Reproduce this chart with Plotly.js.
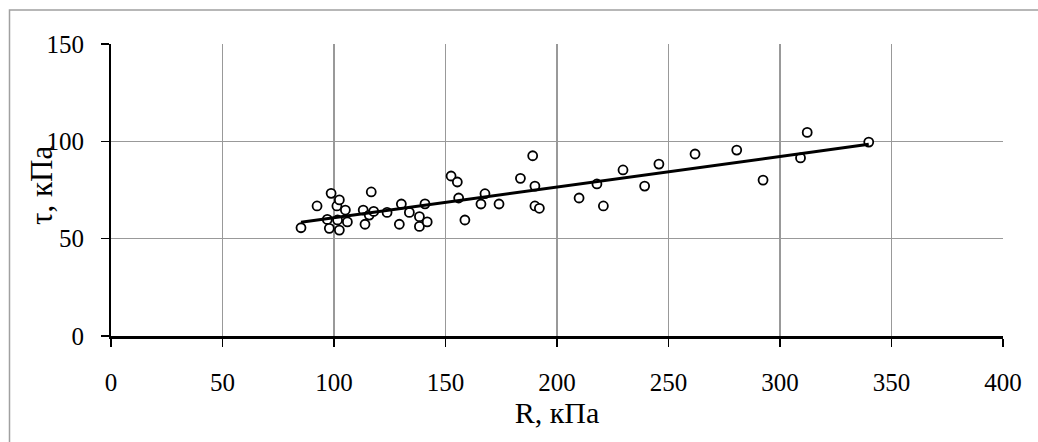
<!DOCTYPE html>
<html>
<head>
<meta charset="utf-8">
<script src="https://cdn.plot.ly/plotly-3.0.1.min.js"></script>
<style>
html,body{margin:0;padding:0;background:#fff;}
#chart{width:1038px;height:442px;}
</style>
</head>
<body>
<div id="chart"></div>
<script>
// Data
const R_kPa = [85.2, 92.4, 97.0, 98.7, 97.9, 101.3, 102.4, 101.6, 102.4, 105.1, 106.0, 113.1, 113.9, 116.7, 115.8, 117.8, 123.8, 129.3, 130.2, 133.8, 138.3, 138.3, 140.8, 141.8, 152.5, 155.3, 155.9, 158.7, 165.9, 167.7, 174.0, 183.6, 189.1, 190.1, 190.1, 192.1, 209.9, 217.9, 220.8, 229.6, 239.3, 245.7, 261.9, 280.6, 292.4, 309.2, 312.2, 339.8];
const tau_kPa = [55.6, 66.8, 59.9, 73.3, 55.3, 66.8, 69.9, 59.6, 54.4, 64.7, 58.6, 64.7, 57.4, 74.0, 62.1, 64.0, 63.5, 57.4, 67.8, 63.5, 61.3, 56.3, 67.9, 58.6, 82.2, 79.1, 70.9, 59.6, 67.8, 73.1, 67.8, 81.0, 92.6, 77.0, 66.8, 65.6, 70.9, 78.1, 66.8, 85.3, 77.0, 88.3, 93.5, 95.5, 80.1, 91.5, 104.6, 99.6];
const xTicks = [0, 50, 100, 150, 200, 250, 300, 350, 400];
const yTicks = [0, 50, 100, 150];
const xTitle = 'R, кПа';
const yTitle = 'τ, кПа';

// Linear trend line (least squares), as Excel would draw it
const n = R_kPa.length;
const mx = R_kPa.reduce((a, b) => a + b, 0) / n;
const my = tau_kPa.reduce((a, b) => a + b, 0) / n;
let sxy = 0, sxx = 0;
for (let i = 0; i < n; i++) { sxy += (R_kPa[i] - mx) * (tau_kPa[i] - my); sxx += (R_kPa[i] - mx) ** 2; }
const slope = sxy / sxx;
const intercept = my - slope * mx;
const xMin = Math.min(...R_kPa), xMax = Math.max(...R_kPa);
const trendX = [xMin, xMax];
const trendY = trendX.map(x => intercept + slope * x);

const FONT = 'Liberation Serif, Times New Roman, serif';

const traces = [
  {
    x: R_kPa, y: tau_kPa, type: 'scatter', mode: 'markers',
    marker: {symbol: 'circle', size: 9, color: '#ffffff', line: {color: '#000000', width: 1.8}},
    hoverinfo: 'x+y', showlegend: false
  },
  {
    x: trendX, y: trendY, type: 'scatter', mode: 'lines',
    line: {color: '#000000', width: 3}, hoverinfo: 'skip', showlegend: false
  }
];

const layout = {
  width: 1038, height: 442,
  margin: {l: 111, r: 35, t: 44, b: 106},
  paper_bgcolor: '#ffffff', plot_bgcolor: '#ffffff',
  showlegend: false,
  font: {family: FONT, color: '#000000', size: 25},
  xaxis: {
    range: [0, 400], tickvals: xTicks, ticktext: xTicks.map(String),
    showgrid: true, gridcolor: '#999999', gridwidth: 1.5,
    zeroline: false, showline: true, linecolor: '#000000', linewidth: 2.5,
    ticks: 'outside', ticklen: 8, tickwidth: 1.5, tickcolor: '#000000',
    tickfont: {family: FONT, size: 25, color: '#000000'},
    ticklabelstandoff: 14,
    title: {text: xTitle, font: {family: FONT, size: 30, color: '#000000'}, standoff: 6},
    fixedrange: true
  },
  yaxis: {
    range: [0, 150], tickvals: yTicks, ticktext: yTicks.map(String),
    showgrid: true, gridcolor: '#999999', gridwidth: 1.5,
    zeroline: false, showline: true, linecolor: '#000000', linewidth: 2,
    ticks: 'outside', ticklen: 8, tickwidth: 1.5, tickcolor: '#000000',
    tickfont: {family: FONT, size: 25, color: '#000000'},
    ticklabelstandoff: 12,
    title: {text: ''},
    fixedrange: true
  },
  annotations: [
    {
      text: yTitle, xref: 'paper', yref: 'paper',
      x: (42 - 111) / 892, y: (336 - 186) / 292,
      xanchor: 'center', yanchor: 'middle', textangle: -90, showarrow: false,
      font: {family: FONT, size: 31, color: '#000000'}
    }
  ],
  shapes: [
    {
      type: 'rect', xref: 'paper', yref: 'paper', layer: 'below',
      x0: (9.5 - 111) / 892, x1: (1060 - 111) / 892,
      y0: (336 - 460) / 292, y1: (336 - 10) / 292,
      line: {color: '#a0a0a0', width: 1.5}, fillcolor: 'rgba(0,0,0,0)'
    }
  ]
};

Plotly.newPlot('chart', traces, layout, {displayModeBar: false, staticPlot: true});
</script>
</body>
</html>
